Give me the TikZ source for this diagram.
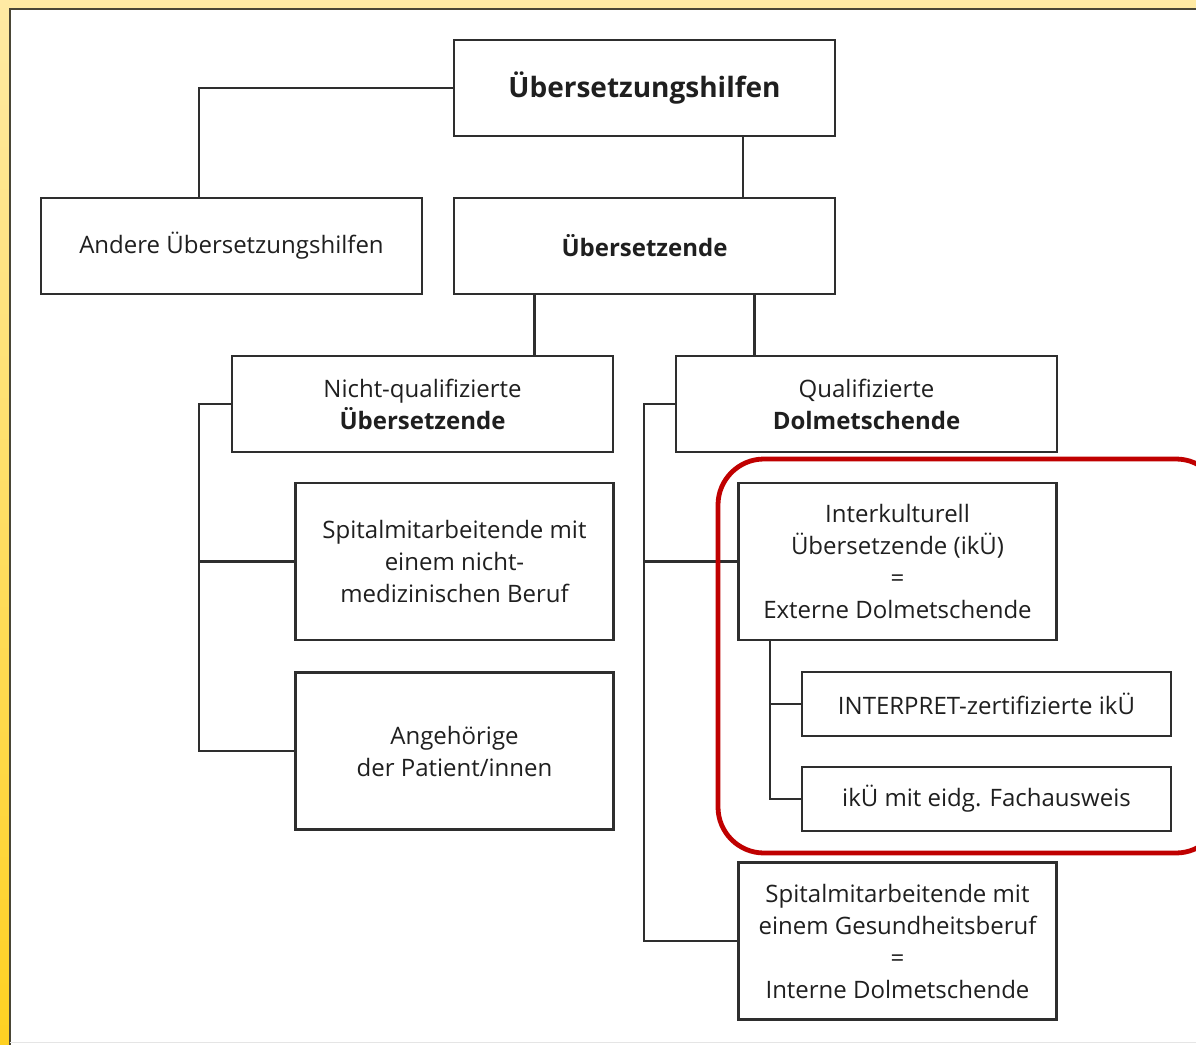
\documentclass[tikz,border=0pt]{standalone}
\usepackage{fontspec}
\setmainfont{Open Sans}
\usetikzlibrary{calc}
\definecolor{frameyellow}{HTML}{FFEAA4}
\definecolor{deepyellow}{HTML}{FFD122}
\definecolor{framerule}{HTML}{4A4636}
\definecolor{boxline}{HTML}{2E2E2E}
\definecolor{hired}{HTML}{C00000}
\tikzset{box/.style={draw=boxline,line width=1.2pt,fill=white,align=center,font=\fontsize{12}{16}\selectfont,text=black!88,inner sep=0pt,minimum width=190.5pt,minimum height=48pt}, tall/.style={box,minimum width=159pt,minimum height=78.5pt}, slim/.style={box,minimum width=184.5pt,minimum height=32pt}, head/.style={box,font=\fontsize{14}{16}\selectfont\bfseries}, link/.style={draw=boxline,line width=1.1pt}, hilite/.style={draw=hired,line width=2.4pt,rounded corners=23pt}}

\begin{document}
\begin{tikzpicture}[x=0.5pt,y=-0.5pt]
\useasboundingbox (0,0) rectangle (1196,1045);
\clip (0,0) rectangle (1196,1045);
\shade[top color=frameyellow,bottom color=deepyellow] (0,0) rectangle (1196,1045);
\fill[white] (9.5,8.5) rectangle (1200,1050);
\draw[framerule,line width=1pt] (9.5,1045) -- (9.5,8.5) -- (1196,8.5);
\draw[black!10] (9.5,1042) -- (1196,1042);
% top levels
\node[head] (top) at (644.5,88) {Übersetzungshilfen};
\node[box] (other) at (231.5,246) {Andere Übersetzungshilfen};
\node[box,font=\fontsize{12}{16}\selectfont\bfseries] (trans) at (644.5,246) {Übersetzende};
\draw[link] (top.west) -| ([xshift=79.5pt]other.north west);
\draw[link] ([xshift=49.25pt]top.south) -- ([xshift=49.25pt]top.south |- trans.north);
\node[box] (nonq) at (422.5,404) {Nicht-qualifizierte\\\textbf{Übersetzende}};
\node[box] (qual) at (866.5,404) {Qualifizierte\\\textbf{Dolmetschende}};
\draw[link] ([xshift=-55pt]trans.south) -- ([xshift=-55pt]trans.south |- nonq.north);
\draw[link] ([xshift=55pt]trans.south) -- ([xshift=55pt]trans.south |- qual.north);
% non-qualified branch
\node[tall] (staff) at (454.5,561.5) {Spitalmitarbeitende mit\\einem nicht-\\medizinischen Beruf};
\node[tall] (kin) at (454.5,751) {Angehörige\\der Patient/innen};
\draw[link] (nonq.west) -- ++(-32,0) |- (staff.west);
\draw[link] (nonq.west) -- ++(-32,0) |- (kin.west);
% qualified branch
\node[tall] (ext) at (897.5,561.5) {Interkulturell\\Übersetzende (ikÜ)\\=\\Externe Dolmetschende};
\node[tall] (int) at (897.5,941) {Spitalmitarbeitende mit\\einem Gesundheitsberuf\\=\\Interne Dolmetschende};
\draw[link] (qual.west) -- ++(-31,0) |- (ext.west);
\draw[link] (qual.west) -- ++(-31,0) |- (int.west);
\node[slim] (cert) at (986.5,704) {INTERPRET-zertifizierte ikÜ};
\node[slim] (fed) at (986.5,799) {ikÜ mit eidg. Fachausweis};
\draw[link] ([xshift=16.5pt]ext.south west) |- (cert.west);
\draw[link] ([xshift=16.5pt]ext.south west) |- (fed.west);
\draw[hilite] (718,459) rectangle (1222,853);
\end{tikzpicture}
\end{document}
